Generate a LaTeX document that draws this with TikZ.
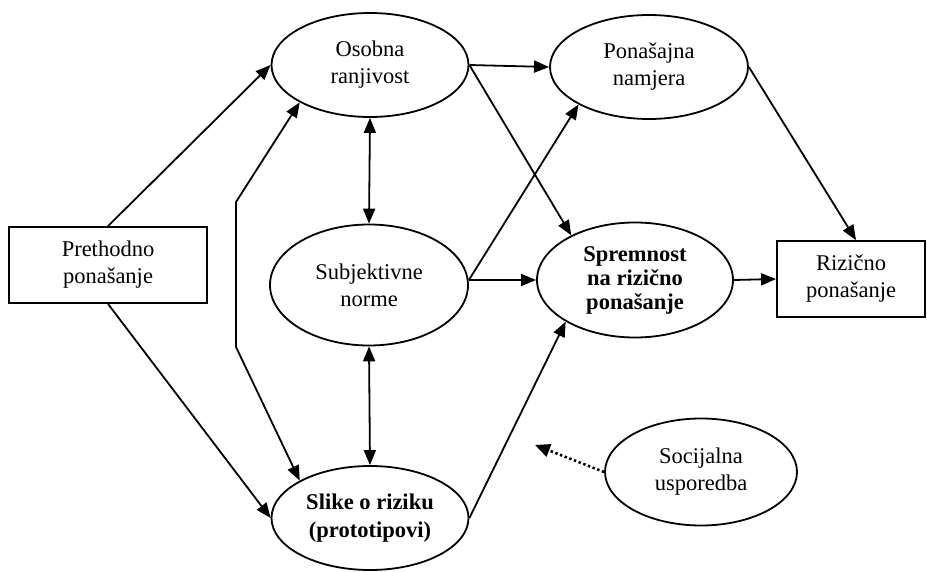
\documentclass[tikz,border=0pt]{standalone}
\usepackage{fontspec}
\setmainfont{Liberation Serif}
\usetikzlibrary{shapes.geometric,arrows.meta,calc}
\begin{document}
\begin{tikzpicture}[x=1pt,y=-1pt,
  every node/.style={font=\fontsize{22.5}{27}\selectfont, align=center, inner sep=0pt},
  oval/.style={draw, ellipse, line width=1.8pt, minimum width=197pt, minimum height=104pt},
  box/.style={draw, rectangle, line width=1.8pt, minimum height=76pt},
  link/.style={line width=1.8pt, -{Triangle[length=15pt,width=12pt]}},
  twoway/.style={line width=1.8pt, {Triangle[length=15pt,width=12pt]}-{Triangle[length=15pt,width=12pt]}},
  dotlink/.style={line width=2.6pt, dash pattern=on 2.4pt off 2.6pt, -{Triangle[length=15pt,width=13pt]}}]
\useasboundingbox (0,0) rectangle (927,572);

% boxes
\node[box, minimum width=198pt] (A) at (108,265) {Prethodno\\ponašanje};
\node[box, minimum width=148pt] (Z) at (851,279) {Rizično\\ponašanje};

% ellipses
\node[oval] (O) at (370,65) {Osobna\\ranjivost};
\node[oval, minimum width=198pt] (P) at (649,67) {Ponašajna\\namjera};
\node[oval, minimum width=198pt, minimum height=121pt] (N) at (369,285) {Subjektivne\\norme};
\node[oval, minimum width=196pt, minimum height=115pt, font=\fontsize{22.5}{24}\selectfont\bfseries] (R) at (635,280) {Spremnost\\na rizično\\ponašanje};
\node[oval, font=\fontsize{22.5}{28}\selectfont\bfseries] (S) at (370,518) {Slike o riziku\\(prototipovi)};
\node[oval, minimum width=192pt, minimum height=107pt] (C) at (701,472) {Socijalna\\usporedba};

% bend points, landing point on the box top and free end
\coordinate (k1) at (236,202);
\coordinate (k2) at (236,347);
\coordinate (ne) at (N.east |- R.west);
\coordinate (zt) at ($(Z.north)+(5,0)$);
\coordinate (gap) at (535,445);

% connectors
\draw[link] (A.north) -- (O.west);
\draw[link] (A.south) -- (S.west);
\draw[twoway] (O.208) -- (k1) -- (k2) -- (S.152);
\draw[twoway] (O.south) -- (N.north);
\draw[twoway] (N.south) -- (S.north);
\draw[link] (O.east) -- (P.west);
\draw[link] (O.east) -- (R.145);
\draw[link] (ne) -- (P.208);
\draw[link] (ne) -- (R.west);
\draw[link] (S.east) -- (R.211);
\draw[link] (P.east) -- (zt);
\draw[link] (R.east) -- (Z.west);
\draw[dotlink] (C.west) -- (gap);
\end{tikzpicture}
\end{document}
